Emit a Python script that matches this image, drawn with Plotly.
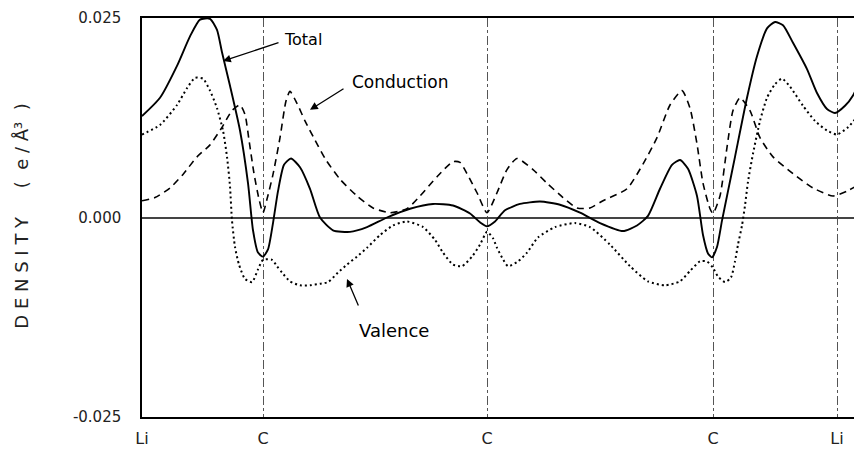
import plotly.graph_objects as go

# Positions along the Li-C-C-C-Li path (arbitrary distance units)
tick_pos = [0.0, 1.21, 3.45, 5.71, 6.95]
tick_labels = ["Li", "C", "C", "C", "Li"]

total_x = [0.00, 0.18, 0.35, 0.48, 0.58, 0.68, 0.75, 0.80, 0.88, 0.98, 1.06, 1.11, 1.16, 1.21,
           1.26, 1.31, 1.36, 1.42, 1.49, 1.58, 1.68, 1.78, 1.91, 2.08, 2.25, 2.45, 2.68, 2.91,
           3.11, 3.28, 3.38, 3.45, 3.53, 3.63, 3.78, 3.98, 4.18, 4.38, 4.58, 4.81, 4.95, 5.06,
           5.18, 5.30, 5.38, 5.46, 5.55, 5.61, 5.66, 5.70, 5.75, 5.80, 5.86, 5.93, 6.05, 6.15,
           6.25, 6.33, 6.41, 6.51, 6.65, 6.75, 6.85, 6.93, 7.03, 7.11, 7.18]
total_y = [0.0127, 0.0150, 0.0190, 0.0227, 0.0248, 0.0249, 0.0235, 0.0207, 0.0165, 0.0109,
           0.0043, -0.0016, -0.0044, -0.0049, -0.0040, -0.0007, 0.0033, 0.0066, 0.0074, 0.0063,
           0.0036, 0.0000, -0.0016, -0.0018, -0.0012, 0.0000, 0.0011, 0.0017, 0.0015, 0.0005,
           -0.0006, -0.0011, -0.0005, 0.0009, 0.0017, 0.0020, 0.0016, 0.0006, -0.0007, -0.0017,
           -0.0010, 0.0002, 0.0036, 0.0066, 0.0072, 0.0061, 0.0027, -0.0022, -0.0045, -0.0050,
           -0.0037, -0.0004, 0.0033, 0.0076, 0.0150, 0.0202, 0.0237, 0.0245, 0.0241, 0.0219,
           0.0186, 0.0156, 0.0136, 0.0131, 0.0140, 0.0153, 0.0172]

cond_x = [0.00, 0.13, 0.28, 0.41, 0.55, 0.68, 0.80, 0.90, 0.98, 1.03, 1.07, 1.12, 1.17, 1.21,
          1.25, 1.31, 1.38, 1.44, 1.48, 1.55, 1.63, 1.73, 1.83, 1.98, 2.15, 2.31, 2.48, 2.65,
          2.78, 2.95, 3.11, 3.18, 3.25, 3.35, 3.45, 3.55, 3.65, 3.75, 3.91, 4.05, 4.21, 4.35,
          4.48, 4.61, 4.85, 5.01, 5.15, 5.28, 5.40, 5.48, 5.55, 5.61, 5.68, 5.71, 5.78, 5.85,
          5.91, 5.98, 6.08, 6.18, 6.31, 6.51, 6.71, 6.91, 7.05, 7.18]
cond_y = [0.0021, 0.0025, 0.0037, 0.0054, 0.0076, 0.0091, 0.0113, 0.0134, 0.0141, 0.0129,
          0.0097, 0.0055, 0.0023, 0.0006, 0.0023, 0.0054, 0.0100, 0.0146, 0.0158, 0.0143,
          0.0121, 0.0097, 0.0074, 0.0048, 0.0027, 0.0012, 0.0006, 0.0011, 0.0027, 0.0051,
          0.0070, 0.0069, 0.0055, 0.0031, 0.0006, 0.0031, 0.0060, 0.0074, 0.0060, 0.0043,
          0.0025, 0.0012, 0.0012, 0.0021, 0.0036, 0.0067, 0.0100, 0.0141, 0.0159, 0.0137,
          0.0092, 0.0043, 0.0011, 0.0005, 0.0027, 0.0088, 0.0134, 0.0150, 0.0134, 0.0100,
          0.0076, 0.0055, 0.0037, 0.0027, 0.0033, 0.0042]

val_x = [0.00, 0.18, 0.35, 0.45, 0.53, 0.61, 0.68, 0.75, 0.81, 0.85, 0.88, 0.90, 0.93, 0.97,
         1.03, 1.10, 1.16, 1.21, 1.30, 1.35, 1.40, 1.48, 1.58, 1.68, 1.78, 1.86, 1.96, 2.05,
         2.15, 2.25, 2.38, 2.51, 2.65, 2.81, 2.93, 3.01, 3.11, 3.20, 3.30, 3.38, 3.45, 3.51,
         3.55, 3.60, 3.66, 3.76, 3.85, 3.96, 4.13, 4.33, 4.48, 4.68, 4.88, 5.06, 5.23, 5.38,
         5.48, 5.58, 5.65, 5.71, 5.76, 5.83, 5.89, 5.93, 5.96, 6.00, 6.03, 6.06, 6.11, 6.18,
         6.25, 6.33, 6.40, 6.48, 6.61, 6.73, 6.85, 6.95, 7.06, 7.18]
val_y = [0.0104, 0.0116, 0.0141, 0.0162, 0.0175, 0.0174, 0.0159, 0.0137, 0.0109, 0.0076,
         0.0039, -0.0004, -0.0037, -0.0059, -0.0077, -0.0081, -0.0065, -0.0053, -0.0053, -0.0061,
         -0.0069, -0.0080, -0.0085, -0.0085, -0.0083, -0.0081, -0.0069, -0.0059, -0.0049, -0.0038,
         -0.0022, -0.0010, -0.0005, -0.0012, -0.0028, -0.0044, -0.0059, -0.0061, -0.0049, -0.0034,
         -0.0018, -0.0026, -0.0038, -0.0050, -0.0061, -0.0055, -0.0044, -0.0025, -0.0012, -0.0007,
         -0.0012, -0.0034, -0.0061, -0.0080, -0.0085, -0.0080, -0.0067, -0.0055, -0.0055, -0.0063,
         -0.0074, -0.0081, -0.0075, -0.0055, -0.0034, -0.0010, 0.0015, 0.0045, 0.0080, 0.0121,
         0.0150, 0.0167, 0.0174, 0.0164, 0.0140, 0.0121, 0.0109, 0.0104, 0.0113, 0.0131]

y_ticks = [-0.025, 0.0, 0.025]
y_tick_labels = ["-0.025", "0.000", "0.025"]

fig = go.Figure()
fig.add_trace(go.Scatter(x=val_x, y=val_y, mode="lines", name="Valence",
                         line=dict(color="black", width=2, dash="2px,3px", shape="spline", smoothing=0.6)))
fig.add_trace(go.Scatter(x=cond_x, y=cond_y, mode="lines", name="Conduction",
                         line=dict(color="black", width=1.6, dash="7px,5px", shape="spline", smoothing=0.6)))
fig.add_trace(go.Scatter(x=total_x, y=total_y, mode="lines", name="Total",
                         line=dict(color="black", width=1.9, shape="spline", smoothing=0.6)))

font_main = "DejaVu Sans"

# curve labels with arrows
fig.add_annotation(x=0.81, y=0.0196, ax=57, ay=-19, text="", showarrow=True,
                   arrowhead=2, arrowsize=1.2, arrowwidth=1.3, arrowcolor="black")
fig.add_annotation(x=1.40, y=0.0223, text="Total", showarrow=False, xanchor="left",
                   font=dict(family=font_main, size=16, color="black"))
fig.add_annotation(x=1.68, y=0.0135, ax=35, ay=-22, text="", showarrow=True,
                   arrowhead=2, arrowsize=1.2, arrowwidth=1.3, arrowcolor="black")
fig.add_annotation(x=2.08, y=0.0170, text="Conduction", showarrow=False, xanchor="left",
                   font=dict(family=font_main, size=17, color="black"))
fig.add_annotation(x=2.05, y=-0.0077, ax=12, ay=28, text="", showarrow=True,
                   arrowhead=2, arrowsize=1.2, arrowwidth=1.3, arrowcolor="black")
fig.add_annotation(x=2.15, y=-0.0142, text="Valence", showarrow=False, xanchor="left",
                   font=dict(family=font_main, size=18, color="black"))

# y-axis title
fig.add_annotation(xref="paper", yref="paper", x=-0.167, y=0.504,
                   text="D E N S I T Y \u00a0\u00a0\u00a0 (\u00a0 e / Å³ \u00a0)",
                   textangle=-90, showarrow=False, xanchor="center", yanchor="middle",
                   font=dict(family=font_main, size=18, color="#222"))

fig.update_layout(
    width=854, height=447,
    margin=dict(l=134, r=0, t=10, b=38),
    paper_bgcolor="white", plot_bgcolor="white",
    showlegend=False,
    xaxis=dict(range=[0, 7.2], tickmode="array", tickvals=tick_pos, ticktext=tick_labels,
               showgrid=True, gridcolor="#555", griddash="dashdot", gridwidth=1,
               showline=True, linecolor="black", linewidth=1.5, mirror=True,
               ticks="", ticklabelstandoff=6, zeroline=False,
               tickfont=dict(family=font_main, size=16, color="#222")),
    yaxis=dict(range=[-0.025, 0.025], tickmode="array", tickvals=y_ticks, ticktext=y_tick_labels,
               showgrid=False, showline=True, linecolor="black", linewidth=1.5, mirror=False,
               zeroline=True, zerolinecolor="#444", zerolinewidth=1.5,
               ticks="", ticklabelstandoff=16,
               tickfont=dict(family=font_main, size=15, color="#222")),
)

fig.write_html("out.html")
